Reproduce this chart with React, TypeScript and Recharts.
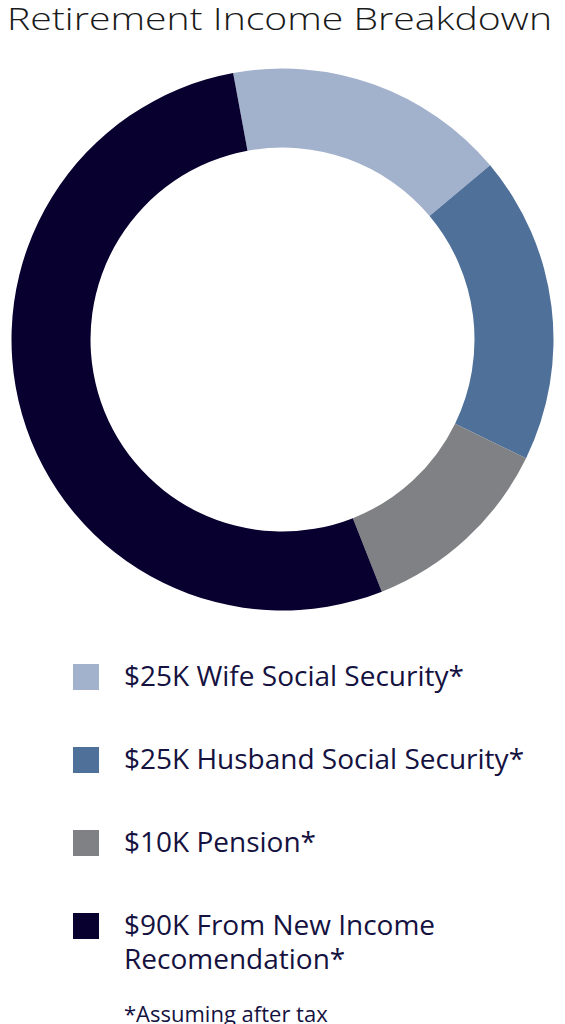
import React from 'react';
import { PieChart, Pie, Cell, Legend } from 'recharts';

// legend text, as printed under the ring
const LABELS = [
    '$25K Wife Social Security*',
    '$25K Husband Social Security*',
    '$10K Pension*',
    '$90K From New Income Recomendation*',
];

// slice sizes as they are drawn in the ring (degrees of arc)
const SLICE_SIZES = [60.5, 66, 42.5, 191];

const COLORS = ['#a2b1cc', '#4f7099', '#808184', '#08002f'];

const data = LABELS.map((name, i) => ({ name, value: SLICE_SIZES[i], color: COLORS[i] }));

// keep the legend in data order (recharts sorts the payload by default)
function LegendList() {
    return (
        <div style={{ position: 'relative', width: 565 }}>
            {data.map((entry, i) => (
                <div key={`legend-${i}`} style={{ position: 'absolute', left: 0, top: i * 83, width: 565 }}>
                    <div
                        style={{
                            position: 'absolute',
                            left: 73,
                            top: 0,
                            width: 26,
                            height: 26,
                            background: entry.color,
                        }}
                    />
                    <div
                        style={{
                            position: 'absolute',
                            left: 124,
                            top: -6,
                            width: 425,
                            fontFamily: '"Open Sans", sans-serif',
                            fontSize: 28,
                            lineHeight: '34px',
                            color: '#15123f',
                            textAlign: 'left',
                        }}
                    >
                        {entry.name}
                    </div>
                </div>
            ))}
            <div
                style={{
                    position: 'absolute',
                    left: 124,
                    top: 334,
                    fontFamily: '"Open Sans", sans-serif',
                    fontSize: 22,
                    lineHeight: '30px',
                    color: '#15123f',
                    whiteSpace: 'nowrap',
                }}
            >
                *Assuming after tax
            </div>
        </div>
    );
}

export default function App() {
    return (
        <div style={{ position: 'absolute', left: 0, top: 0, width: 565, height: 1024, overflow: 'hidden', background: '#fff' }}>
            <svg width={565} height={48} style={{ position: 'absolute', left: 0, top: 0 }}>
                <text
                    x={7}
                    y={30}
                    textLength={545}
                    lengthAdjust="spacingAndGlyphs"
                    fontFamily='"Open Sans", sans-serif'
                    fontWeight={300}
                    fontSize={31}
                    fill="#1a1a1a"
                >
                    Retirement Income Breakdown
                </text>
            </svg>
            <div style={{ position: 'absolute', left: 0, top: 0 }}>
                <PieChart width={565} height={1024} margin={{ top: 0, right: 0, bottom: 0, left: 0 }}>
                    <Pie
                        data={data}
                        dataKey="value"
                        nameKey="name"
                        cx={282.5}
                        cy={339.5}
                        innerRadius={192}
                        outerRadius={271}
                        startAngle={100.5}
                        endAngle={-259.5}
                        stroke="none"
                        isAnimationActive={false}
                    >
                        {data.map((entry, index) => (
                            <Cell key={`cell-${index}`} fill={entry.color} />
                        ))}
                    </Pie>
                    <Legend
                        verticalAlign="bottom"
                        content={LegendList}
                        wrapperStyle={{ position: 'absolute', left: 0, top: 664, bottom: 'auto', width: 565, height: 360 }}
                    />
                </PieChart>
            </div>
        </div>
    );
}
